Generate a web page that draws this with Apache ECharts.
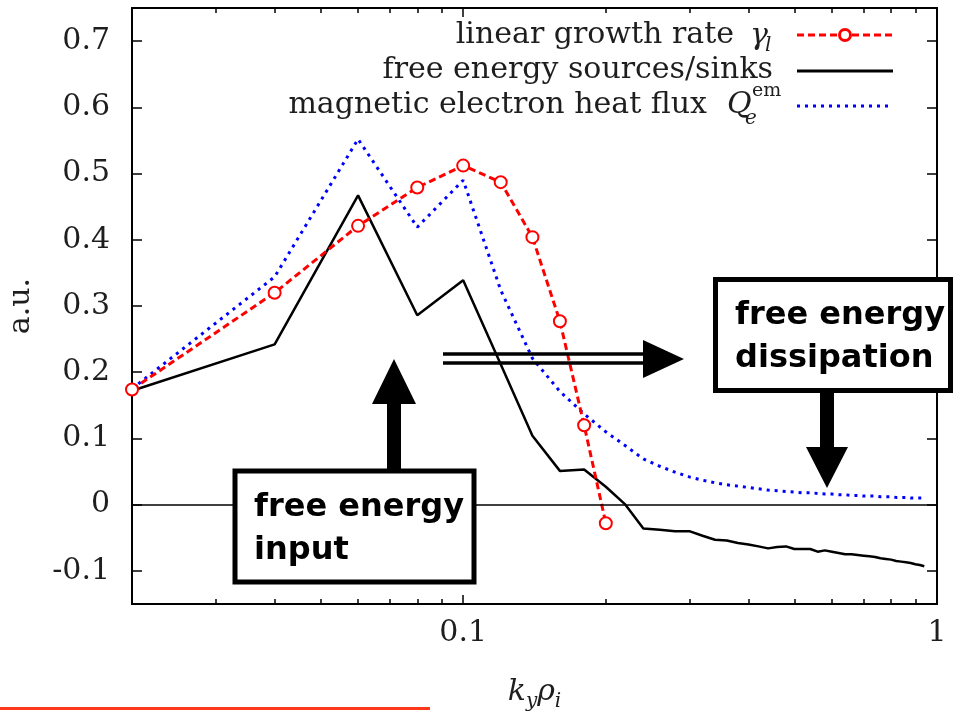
<!DOCTYPE html>
<html>
<head>
<meta charset="utf-8">
<script src="https://cdn.jsdelivr.net/npm/echarts@6/dist/echarts.min.js"></script>
<style>
  html, body { margin: 0; padding: 0; background: #fff; }
  #chart { width: 961px; height: 711px; }
</style>
</head>
<body>
<div id="chart"></div>
<script>
// wavenumbers k_y rho_i of the linear scan
const kyGrowth = [0.02, 0.04, 0.06, 0.08, 0.10, 0.12, 0.14, 0.16, 0.18, 0.20];
// linear growth rate gamma_l (a.u.)
const growthRate = [0.174, 0.320, 0.421, 0.479, 0.512, 0.487, 0.404, 0.277, 0.120, -0.028];

// wavenumbers of the nonlinear spectra
const kySpectrum = [
  0.02, 0.04, 0.06, 0.08, 0.10, 0.12, 0.14, 0.16, 0.18, 0.20,
  0.22, 0.24, 0.26, 0.28, 0.30, 0.32, 0.34, 0.36, 0.38, 0.40,
  0.42, 0.44, 0.46, 0.48, 0.50, 0.52, 0.54, 0.56, 0.58, 0.60,
  0.62, 0.64, 0.66, 0.68, 0.70, 0.72, 0.74, 0.76, 0.78, 0.80,
  0.82, 0.84, 0.86, 0.88, 0.90, 0.92, 0.94
];
// free energy sources / sinks (a.u.)
const freeEnergy = [
  0.172, 0.242, 0.467, 0.286, 0.339, 0.212, 0.104, 0.051, 0.053, 0.027,
  0.000, -0.036, -0.038, -0.040, -0.040, -0.047, -0.053, -0.054, -0.058, -0.060,
  -0.063, -0.066, -0.064, -0.063, -0.067, -0.067, -0.067, -0.071, -0.069, -0.071,
  -0.073, -0.075, -0.075, -0.076, -0.077, -0.078, -0.079, -0.081, -0.082, -0.083,
  -0.085, -0.086, -0.087, -0.088, -0.090, -0.091, -0.093
];
// magnetic electron heat flux Q_e^em (a.u.)
const heatFlux = [
  0.175, 0.344, 0.552, 0.419, 0.490, 0.324, 0.221, 0.171, 0.137, 0.110,
  0.089, 0.069, 0.058, 0.049, 0.042, 0.037, 0.033, 0.030, 0.028, 0.026,
  0.024, 0.022, 0.021, 0.020, 0.019, 0.018, 0.018, 0.017, 0.016, 0.016,
  0.015, 0.015, 0.014, 0.014, 0.013, 0.013, 0.013, 0.012, 0.012, 0.012,
  0.011, 0.011, 0.011, 0.010, 0.010, 0.010, 0.010
];

// axis ticks
const xMajorTicks = [0.1, 1];
const xMinorTicks = [0.03, 0.04, 0.05, 0.06, 0.07, 0.08, 0.09, 0.2, 0.3, 0.4, 0.5, 0.6, 0.7, 0.8, 0.9];
const yTicks = [-0.1, 0, 0.1, 0.2, 0.3, 0.4, 0.5, 0.6, 0.7];

const SERIF = '"DejaVu Serif", serif';
const SANS = '"DejaVu Sans", sans-serif';
const INK = '#1e1e1e';

const pairs = (xs, ys) => xs.map((x, i) => [x, ys[i]]);

function xAxisDef(position, ticks, len, withLabels) {
  return {
    type: 'log', logBase: 10, min: 0.02, max: 1, position: position,
    axisLine: { show: true, onZero: false, lineStyle: { color: '#000', width: 2 } },
    axisTick: { show: true, inside: true, length: len, customValues: ticks,
                lineStyle: { color: '#000', width: 1.5 } },
    axisLabel: withLabels ? {
      show: true, customValues: xMajorTicks, margin: 14,
      fontFamily: SERIF, fontSize: 30, color: INK,
      formatter: v => String(v)
    } : { show: false },
    splitLine: { show: false }
  };
}

function yAxisDef(position, withLabels) {
  return {
    type: 'value', min: -0.15, max: 0.75, position: position,
    axisLine: { show: true, onZero: false, lineStyle: { color: '#000', width: 2 } },
    axisTick: { show: true, inside: true, length: 10, customValues: yTicks,
                lineStyle: { color: '#000', width: 1.5 } },
    axisLabel: withLabels ? {
      show: true, customValues: yTicks, margin: 22,
      fontFamily: SERIF, fontSize: 30, color: INK,
      formatter: v => (Math.abs(v) < 1e-9 ? '0' : v.toFixed(1))
    } : { show: false },
    splitLine: { show: false }
  };
}

const xAxes = [
  Object.assign(xAxisDef('bottom', xMajorTicks, 9, true), {
    name: '{i|k}{s|y}{i|ρ}{s|i}', nameLocation: 'middle', nameGap: 68,
    nameTextStyle: {
      rich: {
        i: { fontFamily: SERIF, fontStyle: 'italic', fontSize: 30, color: INK },
        s: { fontFamily: SERIF, fontStyle: 'italic', fontSize: 20, color: INK, padding: [20, 0, 0, 0] }
      }
    }
  }),
  xAxisDef('bottom', xMinorTicks, 5, false),
  xAxisDef('top', xMajorTicks, 9, false),
  xAxisDef('top', xMinorTicks, 5, false)
];

const yAxes = [
  Object.assign(yAxisDef('left', true), {
    name: 'a.u.', nameLocation: 'middle', nameGap: 96,
    nameTextStyle: { fontFamily: SERIF, fontSize: 30, color: INK }
  }),
  yAxisDef('right', false)
];

// legend drawn in the upper right corner of the frame
const legendGraphics = [
  { type: 'text', x: 734, y: 35, style: { text: 'linear growth rate', align: 'right', verticalAlign: 'middle',
      font: '30px ' + SERIF, fill: INK } },
  { type: 'text', x: 750, y: 36, style: { text: 'γ', align: 'left', verticalAlign: 'middle',
      font: 'italic 30px ' + SERIF, fill: INK } },
  { type: 'text', x: 765, y: 46, style: { text: 'l', align: 'left', verticalAlign: 'middle',
      font: 'italic 20px ' + SERIF, fill: INK } },
  { type: 'line', shape: { x1: 797, y1: 35, x2: 893, y2: 35 },
    style: { stroke: '#ff0000', lineWidth: 3, lineDash: [7, 4] } },
  { type: 'circle', shape: { cx: 845, cy: 35, r: 5.5 },
    style: { stroke: '#ff0000', lineWidth: 3, fill: '#fff' } },

  { type: 'text', x: 773, y: 70, style: { text: 'free energy sources/sinks', align: 'right', verticalAlign: 'middle',
      font: '30px ' + SERIF, fill: INK } },
  { type: 'line', shape: { x1: 797, y1: 71, x2: 893, y2: 71 },
    style: { stroke: '#000', lineWidth: 3 } },

  { type: 'text', x: 707, y: 105, style: { text: 'magnetic electron heat flux', align: 'right', verticalAlign: 'middle',
      font: '30px ' + SERIF, fill: INK } },
  { type: 'text', x: 727, y: 105, style: { text: 'Q', align: 'left', verticalAlign: 'middle',
      font: 'italic 30px ' + SERIF, fill: INK } },
  { type: 'text', x: 752, y: 91, style: { text: 'em', align: 'left', verticalAlign: 'middle',
      font: '19px ' + SERIF, fill: INK } },
  { type: 'text', x: 745, y: 119, style: { text: 'e', align: 'left', verticalAlign: 'middle',
      font: 'italic 20px ' + SERIF, fill: INK } },
  { type: 'line', shape: { x1: 797, y1: 106, x2: 893, y2: 106 },
    style: { stroke: '#0000ff', lineWidth: 3, lineDash: [3, 5] } }
];

// annotation boxes and arrows
const noteGraphics = [
  { type: 'polygon', z: 110, shape: { points: [[387, 470], [387, 404], [372, 404], [394, 359], [416, 404], [401, 404], [401, 470]] },
    style: { fill: '#000' } },
  { type: 'rect', z: 110, shape: { x: 235, y: 471, width: 239, height: 111 },
    style: { fill: '#fff', stroke: '#000', lineWidth: 5 } },
  { type: 'text', z: 111, x: 254, y: 486, style: { text: 'free energy\ninput', font: 'bold 32px ' + SANS,
      lineHeight: 43, fill: '#000', align: 'left', verticalAlign: 'top' } },

  { type: 'line', z: 110, shape: { x1: 443, y1: 354, x2: 646, y2: 354 }, style: { stroke: '#000', lineWidth: 3.5 } },
  { type: 'line', z: 110, shape: { x1: 443, y1: 363, x2: 646, y2: 363 }, style: { stroke: '#000', lineWidth: 3.5 } },
  { type: 'polygon', z: 110, shape: { points: [[643, 340], [684, 359], [643, 378]] }, style: { fill: '#000' } },

  { type: 'polygon', z: 110, shape: { points: [[820, 390], [834, 390], [834, 447], [848, 447], [827, 488], [806, 447], [820, 447]] },
    style: { fill: '#000' } },
  { type: 'rect', z: 110, shape: { x: 715.5, y: 279.5, width: 235, height: 111 },
    style: { fill: '#fff', stroke: '#000', lineWidth: 5 } },
  { type: 'text', z: 111, x: 735, y: 294, style: { text: 'free energy\ndissipation', font: 'bold 32px ' + SANS,
      lineHeight: 43, fill: '#000', align: 'left', verticalAlign: 'top' } },

  { type: 'rect', z: 110, shape: { x: 0, y: 707, width: 430, height: 3 }, style: { fill: '#ff3a1c' } }
];

const chart = echarts.init(document.getElementById('chart'), null, { renderer: 'canvas' });
chart.setOption({
  backgroundColor: '#fff',
  animation: false,
  grid: { left: 132, right: 24, top: 8, bottom: 107, containLabel: false, outerBoundsMode: 'none' },
  xAxis: xAxes,
  yAxis: yAxes,
  series: [
    {
      name: 'linear growth rate', type: 'line', xAxisIndex: 0, yAxisIndex: 0, z: 4,
      data: pairs(kyGrowth, growthRate),
      symbol: 'emptyCircle', symbolSize: 12,
      lineStyle: { color: '#ff0000', width: 3, type: [7, 4] },
      itemStyle: { color: '#ff0000', borderColor: '#ff0000', borderWidth: 3 }
    },
    {
      name: 'free energy sources/sinks', type: 'line', xAxisIndex: 0, yAxisIndex: 0, z: 3,
      data: pairs(kySpectrum, freeEnergy),
      showSymbol: false, symbol: 'none',
      lineStyle: { color: '#000', width: 2.5 },
      markLine: {
        silent: true, symbol: 'none', label: { show: false },
        lineStyle: { color: '#000', width: 1.5, type: 'solid' },
        data: [{ yAxis: 0 }]
      }
    },
    {
      name: 'magnetic electron heat flux', type: 'line', xAxisIndex: 0, yAxisIndex: 0, z: 2,
      data: pairs(kySpectrum, heatFlux),
      showSymbol: false, symbol: 'none',
      lineStyle: { color: '#0000ff', width: 3, type: [3, 5] }
    }
  ],
  graphic: legendGraphics.concat(noteGraphics)
});
</script>
</body>
</html>
